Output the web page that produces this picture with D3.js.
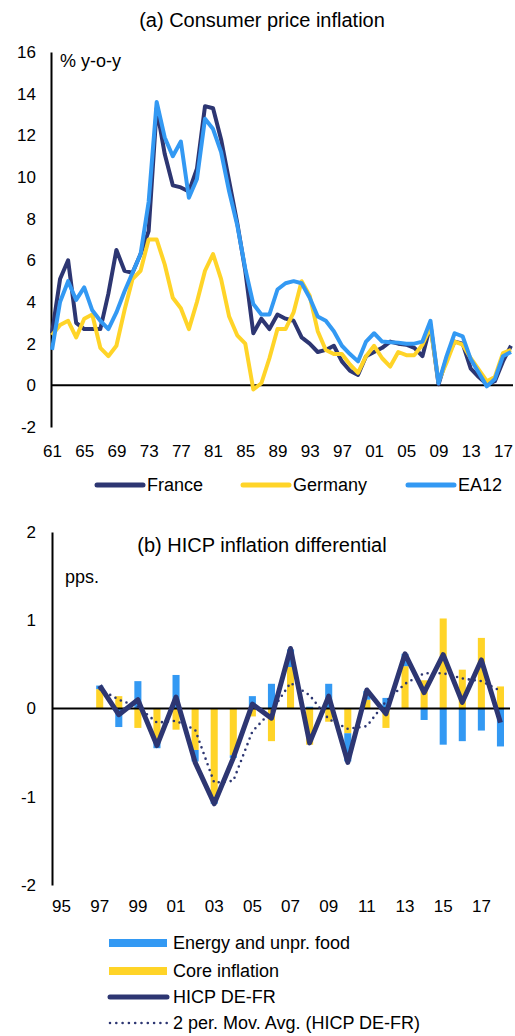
<!DOCTYPE html>
<html>
<head>
<meta charset="utf-8">
<script src="https://cdn.jsdelivr.net/npm/d3@7"></script>
<style>
  body { margin: 0; background: #fff; }
  svg { display: block; font-family: "Liberation Sans", Arial, sans-serif; }
  .tick text { font-size: 17px; fill: #000; }
</style>
</head>
<body>
<svg id="chart" width="515" height="1036"></svg>
<script>
// (a) consumer price inflation, % y-o-y, 1961-2018
const yearsA = d3.range(1961, 2019);
const tickYearsA = [1961, 1965, 1969, 1973, 1977, 1981, 1985, 1989, 1993, 1997, 2001, 2005, 2009, 2013, 2017];
const france = [2.5, 5.1, 6.0, 3.0, 2.7, 2.7, 2.7, 4.4, 6.5, 5.5, 5.4, 6.3, 7.4, 13.3, 11.1, 9.6, 9.5, 9.3, 10.4, 13.4,
  13.3, 11.8, 9.8, 7.8, 5.5, 2.5, 3.2, 2.7, 3.4, 3.2, 3.1, 2.3, 2.0, 1.6, 1.7, 1.9, 1.15, 0.7, 0.5, 1.4,
  1.6, 1.8, 2.1, 2.0, 1.95, 1.8, 1.4, 2.9, 0.05, 1.3, 2.1, 2.0, 0.8, 0.4, 0.05, 0.2, 1.15, 1.9];
const germany = [2.4, 2.9, 3.1, 2.3, 3.2, 3.4, 1.8, 1.4, 1.9, 3.6, 5.1, 5.5, 7.0, 7.0, 5.8, 4.2, 3.7, 2.7, 4.0, 5.5,
  6.3, 5.1, 3.3, 2.4, 2.0, -0.2, 0.1, 1.3, 2.7, 2.7, 3.5, 5.0, 4.3, 2.6, 1.7, 1.5, 1.5, 1.0, 0.6, 1.4,
  1.9, 1.3, 0.9, 1.6, 1.45, 1.45, 1.95, 2.8, 0.2, 1.1, 2.1, 1.95, 1.3, 0.75, 0.2, 0.4, 1.55, 1.7];
const ea12 = [1.7, 4.0, 5.0, 4.1, 4.7, 3.6, 3.1, 2.7, 3.5, 4.5, 5.4, 6.3, 8.8, 13.6, 11.9, 11.0, 11.7, 9.0, 9.9, 12.8,
  12.3, 11.2, 9.3, 7.7, 5.6, 3.9, 3.4, 3.4, 4.6, 4.9, 5.0, 4.9, 4.2, 3.3, 3.1, 2.6, 1.9, 1.5, 1.15, 2.1,
  2.5, 2.1, 2.07, 2.05, 2.0, 2.0, 2.1, 3.1, 0.1, 1.4, 2.5, 2.35, 1.25, 0.6, -0.05, 0.3, 1.4, 1.6];
const ticksYA = [-2, 0, 2, 4, 6, 8, 10, 12, 14, 16];

// (b) HICP inflation differential DE-FR, pps., 1997-2018
const yearsB = d3.range(1995, 2019);
const tickYearsB = [1995, 1997, 1999, 2001, 2003, 2005, 2007, 2009, 2011, 2013, 2015, 2017];
const diffYears = d3.range(1997, 2019);
const energy = [0.04, -0.21, 0.31, -0.07, 0.38, -0.13, -0.03, -0.03, 0.14, 0.28, 0.20, 0.02, 0.28, -0.32, 0.10,
  0.12, 0.14, -0.13, -0.41, -0.37, -0.25, -0.43];
const core = [0.22, 0.14, -0.22, -0.38, -0.24, -0.47, -1.05, -0.53, -0.09, -0.37, 0.47, -0.41, -0.15, -0.28, 0.10,
  -0.22, 0.48, 0.32, 1.02, 0.44, 0.80, 0.25];
const hicp = [0.26, -0.07, 0.10, -0.42, 0.13, -0.61, -1.08, -0.56, 0.05, -0.11, 0.68, -0.39, 0.14, -0.61, 0.21,
  -0.06, 0.62, 0.18, 0.61, 0.07, 0.55, -0.16];
const movAvg = [0.22, 0.10, 0.02, -0.16, -0.14, -0.24, -0.84, -0.82, -0.26, -0.03, 0.29, 0.15, -0.12, -0.23, -0.20,
  0.08, 0.28, 0.40, 0.40, 0.34, 0.31, 0.20];
const ticksYB = [-2, -1, 0, 1, 2];

const NAVY = '#2d3672', YELLOW = '#ffd428', BLUE = '#3399f3';
const plain = d => String(d); // hyphen-minus like the original, not d3's U+2212

const svg = d3.select('#chart');

// ---------- panel (a) ----------
const xA = d3.scalePoint().domain(yearsA).range([52, 511]);
const yA = d3.scaleLinear().domain([-2, 16]).range([427, 52]);

svg.append('text')
  .attr('x', 262).attr('y', 27)
  .attr('text-anchor', 'middle')
  .style('font-size', '20px')
  .text('(a) Consumer price inflation');

svg.append('text')
  .attr('x', 60).attr('y', 67)
  .style('font-size', '18px')
  .text('% y-o-y');

svg.append('g')
  .attr('transform', 'translate(51,0)')
  .call(d3.axisLeft(yA).tickValues(ticksYA).tickSize(0).tickPadding(15).tickFormat(plain))
  .call(g => g.select('.domain').attr('stroke', '#000').attr('stroke-width', 2));

svg.append('g')
  .attr('transform', 'translate(0,445)')
  .call(d3.axisBottom(xA).tickValues(tickYearsA).tickSize(0).tickPadding(0)
    .tickFormat(d => String(d).slice(2)))
  .call(g => g.select('.domain').remove());

svg.append('line')
  .attr('x1', 51).attr('x2', 513)
  .attr('y1', yA(0)).attr('y2', yA(0))
  .attr('stroke', '#000').attr('stroke-width', 2);

const lineA = d3.line().x((d, i) => xA(yearsA[i])).y(d => yA(d));
const seriesA = [
  {name: 'France', values: france, color: NAVY},
  {name: 'Germany', values: germany, color: YELLOW},
  {name: 'EA12', values: ea12, color: BLUE}
];

svg.append('g').selectAll('path')
  .data(seriesA)
  .join('path')
  .attr('d', d => lineA(d.values))
  .attr('fill', 'none')
  .attr('stroke', d => d.color)
  .attr('stroke-width', 4)
  .attr('stroke-linejoin', 'round');

const legA = svg.append('g').selectAll('g')
  .data(seriesA)
  .join('g')
  .attr('transform', (d, i) => `translate(${[97, 243, 408][i]},485)`);
legA.append('line')
  .attr('x1', 0).attr('x2', 46)
  .attr('stroke', d => d.color).attr('stroke-width', 5)
  .attr('stroke-linecap', 'round');
legA.append('text')
  .attr('x', 50).attr('dy', '0.35em')
  .style('font-size', '18px')
  .text(d => d.name);

// ---------- panel (b) ----------
const xB = d3.scaleBand().domain(yearsB).range([52, 510])
  .paddingInner(0.63).paddingOuter(0.315);
const yB = d3.scaleLinear().domain([-2, 2]).range([885, 532]);
const cx = yr => xB(yr) + xB.bandwidth() / 2;

svg.append('text')
  .attr('x', 262).attr('y', 552)
  .attr('text-anchor', 'middle')
  .style('font-size', '20px')
  .text('(b) HICP inflation differential');

svg.append('text')
  .attr('x', 65).attr('y', 583)
  .style('font-size', '18px')
  .text('pps.');

svg.append('g')
  .attr('transform', 'translate(52,0)')
  .call(d3.axisLeft(yB).tickValues(ticksYB).tickSize(0).tickPadding(16).tickFormat(plain))
  .call(g => g.select('.domain').attr('stroke', '#000').attr('stroke-width', 2));

svg.append('g')
  .attr('transform', 'translate(0,900)')
  .call(d3.axisBottom(xB).tickValues(tickYearsB).tickSize(0).tickPadding(0)
    .tickFormat(d => String(d).slice(2)))
  .call(g => g.select('.domain').remove());

// stacked bars: core first, energy on top (diverging)
const barRows = diffYears.map((yr, i) => ({year: yr, core: core[i], energy: energy[i]}));
const stacked = d3.stack().keys(['core', 'energy']).offset(d3.stackOffsetDiverging)(barRows);
const barColor = {core: YELLOW, energy: BLUE};

svg.append('g').selectAll('g')
  .data(stacked)
  .join('g')
  .attr('fill', d => barColor[d.key])
  .selectAll('rect')
  .data(d => d)
  .join('rect')
  .attr('x', d => xB(d.data.year))
  .attr('width', xB.bandwidth())
  .attr('y', d => yB(Math.max(d[0], d[1])))
  .attr('height', d => Math.abs(yB(d[0]) - yB(d[1])));

svg.append('line')
  .attr('x1', 52).attr('x2', 510)
  .attr('y1', yB(0)).attr('y2', yB(0))
  .attr('stroke', '#000').attr('stroke-width', 2);

const lineB = d3.line().x((d, i) => cx(diffYears[i])).y(d => yB(d));

svg.append('path')
  .attr('d', lineB(hicp))
  .attr('fill', 'none')
  .attr('stroke', NAVY)
  .attr('stroke-width', 5)
  .attr('stroke-linejoin', 'round');

svg.append('path')
  .attr('d', lineB(movAvg))
  .attr('fill', 'none')
  .attr('stroke', NAVY)
  .attr('stroke-width', 2.6)
  .attr('stroke-linecap', 'round')
  .attr('stroke-dasharray', '0,6');

// legend (b)
const legB = svg.append('g').attr('transform', 'translate(109,0)');
const legItems = [
  {label: 'Energy and unpr. food', y: 943, kind: 'bar', color: BLUE},
  {label: 'Core inflation', y: 971, kind: 'bar', color: YELLOW},
  {label: 'HICP DE-FR', y: 997, kind: 'line', color: NAVY},
  {label: '2 per. Mov. Avg. (HICP DE-FR)', y: 1023, kind: 'dot', color: NAVY}
];
legItems.forEach(it => {
  const g = legB.append('g').attr('transform', `translate(0,${it.y})`);
  if (it.kind === 'bar') {
    g.append('rect').attr('x', 0).attr('y', -4).attr('width', 58).attr('height', 8).attr('fill', it.color);
  } else if (it.kind === 'line') {
    g.append('line').attr('x1', 1).attr('x2', 58).attr('stroke', it.color)
      .attr('stroke-width', 5).attr('stroke-linecap', 'round');
  } else {
    g.append('line').attr('x1', 1).attr('x2', 58).attr('stroke', it.color)
      .attr('stroke-width', 2.6).attr('stroke-linecap', 'round').attr('stroke-dasharray', '0,6.3');
  }
  g.append('text')
    .attr('x', 64).attr('dy', '0.35em')
    .style('font-size', '18px')
    .text(it.label);
});
</script>
</body>
</html>
